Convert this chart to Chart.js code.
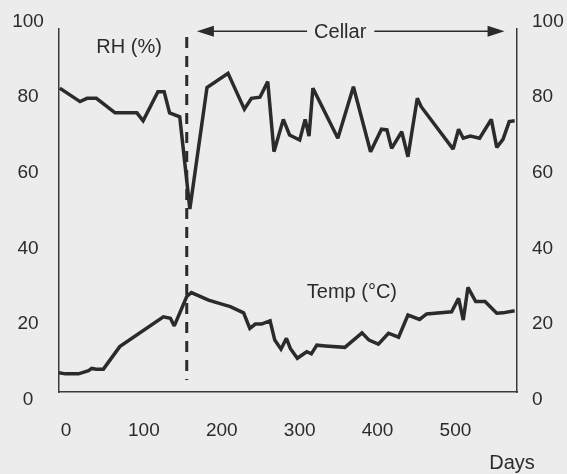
<!DOCTYPE html>
<html><head><meta charset="utf-8">
<script src="https://cdn.jsdelivr.net/npm/chart.js@4/dist/chart.umd.min.js"></script>
<style>
html,body{margin:0;padding:0;background:#ececec;}
#wrap{width:567px;height:474px;position:relative;}
canvas{display:block;}
</style>
</head><body>
<div id="wrap"><canvas id="c" width="567" height="474"></canvas></div>
<script>
// ---- data ----
const rhDays = [1,27,36,48,72,100,108,127,135,142,155,168,190,217,238,247,258,268,276,288,296,309,316,321,326,358,378,400,414,421,427,440,448,460,465,506,513,519,528,540,555,562,570,578,585];
const rhValues = [83.7,80.0,80.9,80.9,76.9,76.9,74.7,82.7,82.7,76.9,75.8,50.4,83.9,87.8,77.9,80.9,81.2,85.5,66.2,75.1,70.8,69.4,75.1,70.5,83.7,69.9,84.1,66.2,72.4,72.2,67.1,71.7,64.8,80.9,78.6,66.9,72.4,69.9,70.5,69.9,75.1,67.4,69.6,74.5,74.7];
const tempDays = [0,8,25,38,42,48,57,78,134,143,148,164,170,192,209,220,237,245,252,260,271,277,285,292,297,306,318,324,331,342,367,389,398,410,423,436,448,463,472,504,513,519,525,535,547,562,570,585];
const tempValues = [5.3,5.0,5.0,5.9,6.5,6.3,6.3,12.5,20.7,20.3,18.2,26.3,27.4,25.3,24.2,23.5,21.8,17.5,18.7,18.7,19.6,14.3,11.8,14.8,12.0,9.3,11.1,10.5,12.9,12.7,12.3,16.3,14.3,13.2,16.2,15.1,21.2,20.0,21.5,22.1,25.8,19.8,28.8,24.9,24.9,21.7,21.8,22.4];
const xTicks = [0,100,200,300,400,500];
const yTicks = [0,20,40,60,80,100];
const seriesNames = ['RH (%)','Temp (°C)'];
const xTitle = 'Days';
const cellarLabel = 'Cellar';
const cellarStartDay = 164;
const cellarArrowDays = [177, 572];
const cellarArrowLevel = 99.4;
const dashedRange = [3.3, 97.8];
const seriesLabelPos = [[90, 94.8], [376, 27.3]];
const cellarLabelDay = 361;

// ---- style ----
const INK = '#2b2b2b';
const FONT = '"Liberation Sans", Arial, sans-serif';

const annot = {
  id: 'annot',
  beforeDatasetsDraw(chart) {
    chart.ctx.save();
    chart.ctx.miterLimit = 2.2;
  },
  afterDatasetsDraw(chart) {
    chart.ctx.restore();
    const ctx = chart.ctx, xs = chart.scales.x, ys = chart.scales.y, y2 = chart.scales.y2;
    const ca = chart.chartArea;
    ctx.save();
    // dashed vertical line
    const dx = xs.getPixelForValue(cellarStartDay);
    ctx.strokeStyle = INK; ctx.lineWidth = 3; ctx.setLineDash([11, 8]);
    ctx.beginPath();
    ctx.moveTo(dx, ys.getPixelForValue(dashedRange[1]));
    ctx.lineTo(dx, ys.getPixelForValue(dashedRange[0]));
    ctx.stroke();
    ctx.setLineDash([]);
    // cellar arrow
    const ay = ys.getPixelForValue(cellarArrowLevel);
    const ax1 = xs.getPixelForValue(cellarArrowDays[0]);
    const ax2 = xs.getPixelForValue(cellarArrowDays[1]);
    const tx = xs.getPixelForValue(cellarLabelDay);
    ctx.font = '20px ' + FONT;
    const tw = ctx.measureText(cellarLabel).width;
    ctx.lineWidth = 1.5;
    ctx.beginPath();
    ctx.moveTo(ax1 + 10, ay); ctx.lineTo(tx - tw/2 - 7, ay);
    ctx.moveTo(tx + tw/2 + 8, ay); ctx.lineTo(ax2 - 10, ay);
    ctx.stroke();
    ctx.fillStyle = INK;
    ctx.beginPath();
    ctx.moveTo(ax1, ay); ctx.lineTo(ax1 + 17, ay - 5.5); ctx.lineTo(ax1 + 17, ay + 5.5); ctx.closePath(); ctx.fill();
    ctx.beginPath();
    ctx.moveTo(ax2, ay); ctx.lineTo(ax2 - 17, ay - 5.5); ctx.lineTo(ax2 - 17, ay + 5.5); ctx.closePath(); ctx.fill();
    ctx.textAlign = 'center'; ctx.textBaseline = 'middle';
    ctx.fillText(cellarLabel, tx, ay + 1);
    // series labels
    seriesNames.forEach((n, i) => {
      ctx.fillText(n, xs.getPixelForValue(seriesLabelPos[i][0]), ys.getPixelForValue(seriesLabelPos[i][1]));
    });
    // x title
    ctx.fillText(xTitle, ca.right - 5, ca.bottom + 71);
    // y tick labels (both sides)
    ctx.font = '19px ' + FONT;
    const c = (ca.top + ca.bottom) / 2, k = 1.041;
    yTicks.forEach(v => {
      const ly = c + (ys.getPixelForValue(v) - c) * k;
      ctx.textAlign = 'center';
      ctx.fillText(String(v), ys.left + 28, ly);
      ctx.textAlign = 'left';
      ctx.fillText(String(v), y2.left + 15, ly);
    });
    ctx.restore();
  }
};

const mk = (days, vals) => days.map((d, i) => ({x: d, y: vals[i]}));
const yOpts = (pos, w) => ({
  type: 'linear', position: pos, min: 0, max: 100,
  afterBuildTicks: s => { s.ticks = yTicks.map(v => ({value: v})); },
  grid: {display: false, drawTicks: false},
  border: {display: true, color: '#3a3a3a', width: 1.5},
  ticks: {display: false},
  afterFit: s => { s.width = w; }
});

new Chart(document.getElementById('c'), {
  type: 'line',
  data: {
    datasets: [
      {label: seriesNames[0], data: mk(rhDays, rhValues), borderColor: INK, borderWidth: 3.5, pointRadius: 0, tension: 0, fill: false, yAxisID: 'y'},
      {label: seriesNames[1], data: mk(tempDays, tempValues), borderColor: INK, borderWidth: 3.5, pointRadius: 0, tension: 0, fill: false, yAxisID: 'y'}
    ]
  },
  options: {
    responsive: false, animation: false, devicePixelRatio: 1,
    layout: {padding: {top: 29, left: 0, right: 0, bottom: 0}},
    plugins: {legend: {display: false}, tooltip: {enabled: false}},
    scales: {
      x: {
        type: 'linear', min: 0, max: 588,
        afterBuildTicks: s => { s.ticks = xTicks.map(v => ({value: v})); },
        grid: {display: false, drawTicks: false},
        border: {display: true, color: '#3a3a3a', width: 1.5},
        ticks: {padding: 27, labelOffset: 7, color: INK, font: {family: FONT, size: 19}, maxRotation: 0},
        afterFit: s => { s.height = 82; }
      },
      y: yOpts('left', 59),
      y2: yOpts('right', 50)
    }
  },
  plugins: [annot]
});
</script>
</body></html>
